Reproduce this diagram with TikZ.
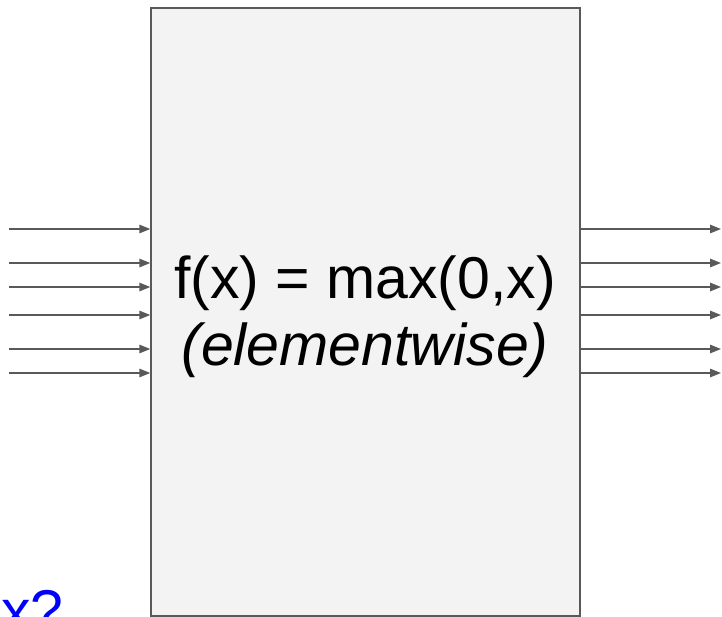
\documentclass[tikz,border=0pt]{standalone}
\usepackage{fontspec}
\setmainfont{Liberation Sans}
\usetikzlibrary{arrows.meta,positioning}
\definecolor{edgegrey}{RGB}{89,89,89}
\definecolor{boxfill}{RGB}{243,243,243}
\definecolor{askblue}{RGB}{0,0,255}
\tikzset{
  layer/.style={draw=edgegrey,line width=1.4pt,fill=boxfill,minimum width=429pt,minimum height=608pt,inner sep=0pt},
  arr/.style={-{Triangle[length=11pt,width=8.5pt]},draw=edgegrey,fill=edgegrey,line width=1.4pt},
  bigtext/.style={font=\fontsize{59}{67}\selectfont,align=center,inner sep=0pt}
}
\begin{document}
\begin{tikzpicture}[x=1pt,y=-1pt]
  \useasboundingbox (0,0) rectangle (722,617);
  \clip (0,0) rectangle (722,617);
  \node[layer] (relu) at (365.5,312) {};
  \node[bigtext] (func) at (365,317) {f(x) = max(0,x)\\\textit{(elementwise)}};
  \node[bigtext,text=askblue,anchor=base west] (ask) at (1,631) {x?};
  \foreach \y in {229,263,287,315,349,373}{
    \coordinate (in\y) at (9,\y);
    \coordinate (out\y) at (721,\y);
    \draw[arr] (in\y) -- (in\y -| relu.west);
    \draw[arr] (out\y -| relu.east) -- (out\y);
  }
\end{tikzpicture}
\end{document}
